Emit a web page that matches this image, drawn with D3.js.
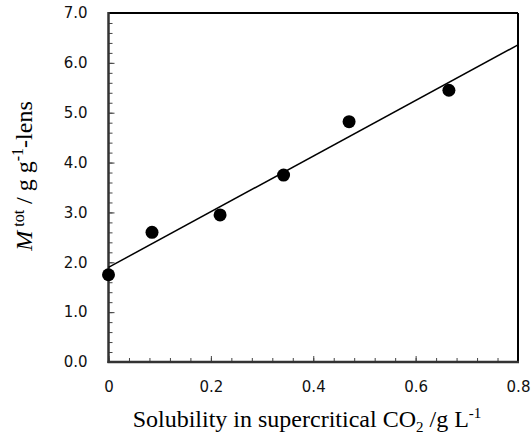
<!DOCTYPE html>
<html>
<head>
<meta charset="utf-8">
<script src="https://cdn.jsdelivr.net/npm/d3@7"></script>
<style>
  body { margin: 0; background: #fff; }
  .tick text { font-family: "DejaVu Sans", sans-serif; font-size: 15px; fill: #111; }
  .title { font-family: "Liberation Serif", "Times New Roman", serif; font-size: 24px; fill: #000; }
</style>
</head>
<body>
<svg id="chart" width="531" height="436"></svg>
<script>
  // solubility (g/L) vs total uptake
  const solubility = [0, 0.085, 0.218, 0.342, 0.47, 0.665];
  const mtot = [1.75, 2.6, 2.95, 3.75, 4.82, 5.45];
  const xTicks = [0, 0.2, 0.4, 0.6, 0.8];
  const xTickLabels = ["0", "0.2", "0.4", "0.6", "0.8"];
  const yTicks = [0, 1, 2, 3, 4, 5, 6, 7];
  const yTickLabels = ["0.0", "1.0", "2.0", "3.0", "4.0", "5.0", "6.0", "7.0"];

  const svg = d3.select("#chart");
  const plotL = 108.5, plotR = 518, plotT = 13, plotB = 362;

  const x = d3.scaleLinear().domain([0, 0.8]).range([plotL, plotR]);
  const y = d3.scaleLinear().domain([0, 7]).range([plotB, plotT]);

  // minor ticks
  const xMinor = d3.range(0, 0.8001, 0.04);
  const yMinor = d3.range(0, 7.001, 0.2);

  svg.append("g")
    .attr("transform", `translate(0,${plotB})`)
    .call(d3.axisBottom(x).tickValues(xMinor).tickSize(-4).tickFormat(""))
    .call((g) => g.select(".domain").remove())
    .selectAll("line").attr("stroke", "#444");

  svg.append("g")
    .attr("transform", `translate(${plotL},0)`)
    .call(d3.axisLeft(y).tickValues(yMinor).tickSize(-4).tickFormat(""))
    .call((g) => g.select(".domain").remove())
    .selectAll("line").attr("stroke", "#444");

  // major tick labels
  svg.append("g")
    .attr("transform", `translate(0,${plotB})`)
    .call(d3.axisBottom(x).tickValues(xTicks).tickSize(-6).tickPadding(19)
      .tickFormat((d, i) => xTickLabels[i]))
    .call((g) => g.select(".domain").remove())
    .selectAll("line").attr("stroke", "#444");

  svg.append("g")
    .attr("transform", `translate(${plotL},0)`)
    .call(d3.axisLeft(y).tickValues(yTicks).tickSize(-6).tickPadding(21)
      .tickFormat((d, i) => yTickLabels[i]))
    .call((g) => g.select(".domain").remove())
    .selectAll("line").attr("stroke", "#444");

  // frame
  svg.append("line").attr("x1", plotL).attr("x2", plotR).attr("y1", plotT).attr("y2", plotT)
    .attr("stroke", "#000").attr("stroke-width", 2);
  svg.append("line").attr("x1", plotR).attr("x2", plotR).attr("y1", plotT).attr("y2", plotB)
    .attr("stroke", "#000").attr("stroke-width", 2);
  svg.append("line").attr("x1", plotL).attr("x2", plotL).attr("y1", plotT - 1).attr("y2", plotB + 1)
    .attr("stroke", "#333").attr("stroke-width", 2.5);
  svg.append("line").attr("x1", plotL - 1).attr("x2", plotR + 1).attr("y1", plotB).attr("y2", plotB)
    .attr("stroke", "#333").attr("stroke-width", 2.5);

  // linear fit
  const mx = d3.mean(solubility), my = d3.mean(mtot);
  const sxy = d3.sum(solubility, (d, i) => (d - mx) * (mtot[i] - my));
  const sxx = d3.sum(solubility, (d) => (d - mx) * (d - mx));
  const slope = sxy / sxx, intercept = my - slope * mx;

  svg.append("line")
    .attr("x1", x(0)).attr("y1", y(intercept))
    .attr("x2", x(0.8)).attr("y2", y(intercept + slope * 0.8))
    .attr("stroke", "#000").attr("stroke-width", 1.5);

  svg.selectAll(".dot")
    .data(solubility)
    .enter()
    .append("circle")
    .attr("class", "dot")
    .attr("cx", (d) => x(d))
    .attr("cy", (d, i) => y(mtot[i]))
    .attr("r", 6.5)
    .attr("fill", "#000");

  // axis titles
  const xt = svg.append("text").attr("class", "title")
    .attr("x", 307).attr("y", 427).attr("text-anchor", "middle");
  xt.append("tspan").text("Solubility in supercritical CO");
  xt.append("tspan").attr("font-size", 15).attr("dy", 5).text("2");
  xt.append("tspan").attr("dy", -5).text(" /g L");
  xt.append("tspan").attr("font-size", 15).attr("dy", -9).text("-1");

  const yt = svg.append("text").attr("class", "title")
    .attr("transform", "translate(32,176) rotate(-90)")
    .attr("text-anchor", "middle");
  yt.append("tspan").attr("font-style", "italic").text("M");
  yt.append("tspan").attr("font-size", 16).attr("dy", -8).text(" tot");
  yt.append("tspan").attr("dy", 8).text(" / g g");
  yt.append("tspan").attr("font-size", 16).attr("dy", -9).text("-1");
  yt.append("tspan").attr("dy", 9).text("-lens");
</script>
</body>
</html>
